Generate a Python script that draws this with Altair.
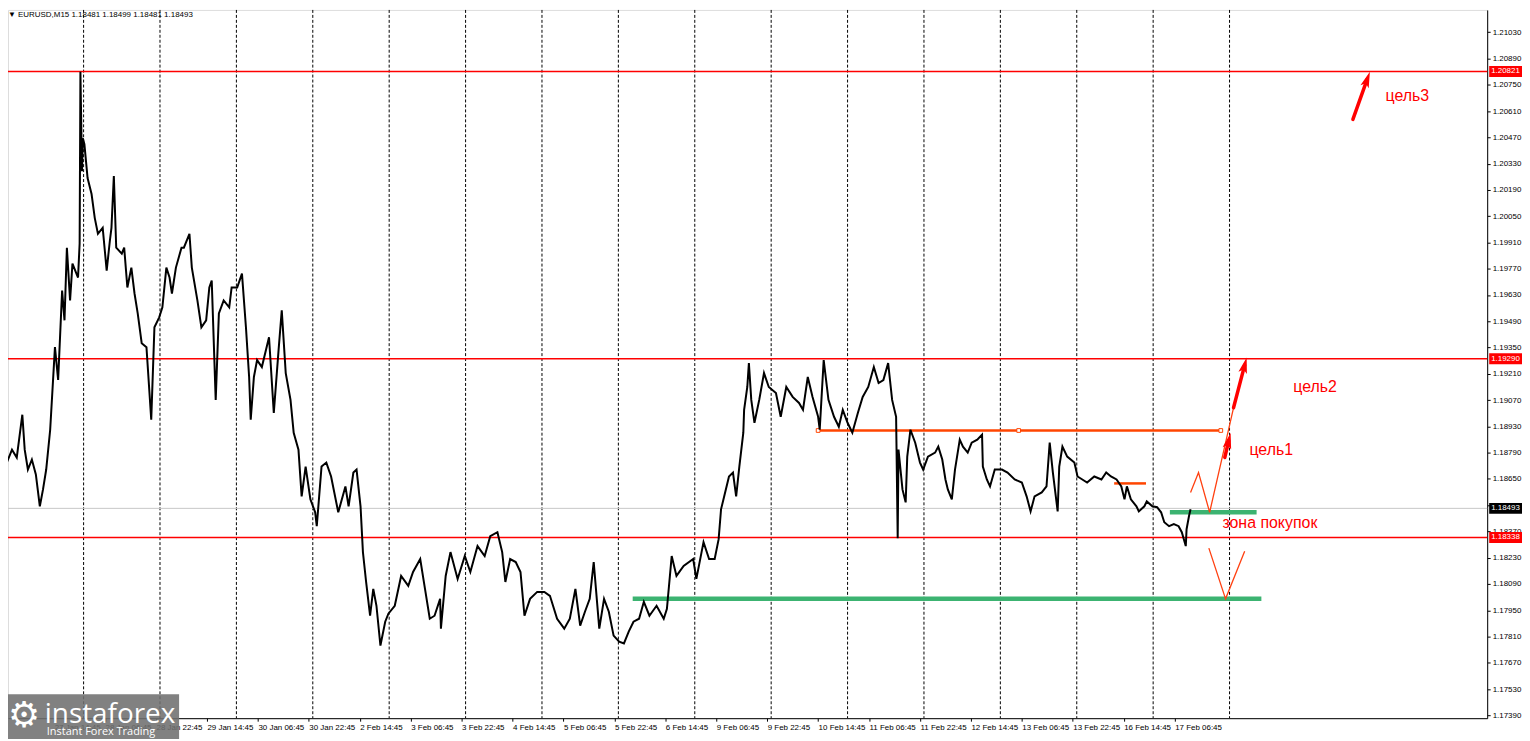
import altair as alt
import pandas as pd

# ---------------- data ----------------
# 15-minute bar index counted from Mon 26 Jan 00:00 (weekends skipped), and price
bars = [
    91, 96, 102, 108, 115, 118, 122, 127, 132, 137, 141, 145, 150, 156, 160, 165, 168, 171, 175, 178,
    185, 187, 188, 190, 191, 193, 197, 202, 206, 210, 216, 221, 225, 227, 230, 233, 240, 243, 247, 252,
    256, 260, 265, 271, 277, 281, 287, 291, 296, 300, 303, 308, 315, 318, 325, 328, 335, 340, 346, 350,
    353, 358, 362, 368, 375, 378, 385, 391, 396, 400, 402, 406, 410,
    416, 425, 431, 437, 441, 446, 452, 456, 462, 466, 471, 477, 483, 485, 491, 497, 503, 512, 521, 525,
    531, 535, 540, 543, 547, 552, 556, 560, 565, 571, 575, 583, 591, 600, 606, 615, 621, 627, 633, 640,
    641, 647, 653, 662, 671, 678, 687, 696, 703, 712, 718, 722, 728, 735, 741, 746, 753, 762, 771, 778,
    787, 796, 803, 810, 816, 822, 828, 833, 840, 846, 852, 858, 865, 871,
    877, 883, 890, 896, 903, 912, 921, 925, 931, 937, 946, 958, 962, 971, 978, 985, 990, 993, 997, 1003,
    1008, 1012, 1016, 1021, 1022, 1026, 1028, 1031, 1035, 1041, 1047, 1053, 1062, 1068, 1075, 1083, 1091,
    1096, 1102, 1108, 1115, 1117, 1122, 1128, 1135, 1141, 1146, 1152, 1158, 1165, 1171, 1178, 1185, 1191,
    1197, 1203, 1208, 1213, 1215, 1216, 1221, 1225,
    1227, 1231, 1237, 1243, 1247, 1253, 1262, 1266, 1271, 1275, 1278, 1283, 1287, 1293, 1297, 1303, 1308,
    1315, 1321, 1322, 1327, 1331, 1337, 1346, 1353, 1362, 1371, 1377, 1382, 1387, 1396, 1402, 1406, 1410,
    1416, 1418, 1422, 1428, 1437, 1441, 1447, 1453, 1462, 1471, 1477, 1483, 1490, 1496, 1500, 1503, 1508,
    1515, 1518, 1525, 1528, 1535, 1541, 1546, 1550, 1556, 1562, 1568, 1572, 1577, 1578, 1581, 1583,
]
prices = [
    1.18833, 1.18742, 1.18806, 1.18764, 1.18992, 1.18806, 1.18700, 1.18753, 1.18674, 1.18504, 1.18594, 1.18700,
    1.18912, 1.19352, 1.19177, 1.19654, 1.19495, 1.19882, 1.19601, 1.19797,
    1.19723, 1.19903, 1.20820, 1.20290, 1.20465, 1.20433, 1.20253, 1.20168, 1.20041, 1.19956, 1.19988, 1.19760,
    1.19919, 1.19988, 1.20264, 1.19882, 1.19850, 1.19882, 1.19670, 1.19776,
    1.19638, 1.19532, 1.19373, 1.19352, 1.18965, 1.19458, 1.19511, 1.19564, 1.19776, 1.19723, 1.19638, 1.19776,
    1.19882, 1.19882, 1.19956, 1.19776, 1.19601, 1.19458, 1.19495, 1.19670,
    1.19707, 1.19071, 1.19532, 1.19601, 1.19564, 1.19670, 1.19670, 1.19744, 1.19458, 1.19193, 1.18965, 1.19193,
    1.19283,
    1.19246, 1.19405, 1.19002, 1.19336, 1.19548, 1.19214, 1.19071, 1.18896, 1.18806, 1.18557, 1.18716, 1.18541,
    1.18472, 1.18398, 1.18716, 1.18737, 1.18663, 1.18472, 1.18610, 1.18504,
    1.18684, 1.18700, 1.18504, 1.18260, 1.18101, 1.17921, 1.18064, 1.17974, 1.17762, 1.17889, 1.17932, 1.17974,
    1.18133, 1.18080, 1.18154, 1.18223, 1.18064, 1.17905, 1.17921, 1.18011,
    1.17852, 1.18133, 1.18260, 1.18117, 1.18239, 1.18154, 1.18292, 1.18239, 1.18345, 1.18366, 1.18260, 1.18101,
    1.18223, 1.18207, 1.18154, 1.17921, 1.18011, 1.18048, 1.18048, 1.18027,
    1.17905, 1.17852, 1.17905, 1.18064, 1.17868, 1.17942, 1.18011, 1.18207, 1.17852, 1.18011, 1.17942, 1.17815,
    1.17783, 1.17773,
    1.17836, 1.17889, 1.17905, 1.17995, 1.17921, 1.17974, 1.17905, 1.17958, 1.18239, 1.18133, 1.18186, 1.18223,
    1.18117, 1.18313, 1.18223, 1.18223, 1.18329, 1.18488, 1.18557, 1.18663,
    1.18684, 1.18557, 1.18716, 1.18896, 1.19018, 1.19140, 1.19267, 1.19071, 1.18949, 1.19071, 1.19214, 1.19140,
    1.19108, 1.18981, 1.19140, 1.19087, 1.19055,
    1.19018, 1.19193, 1.19087, 1.18981, 1.18912, 1.19283, 1.19071, 1.18981, 1.18928, 1.19018, 1.18949, 1.18896,
    1.19002, 1.19087, 1.19140, 1.19246, 1.19161,
    1.19177, 1.19267, 1.19071, 1.18981, 1.18334, 1.18806, 1.18594, 1.18525,
    1.18769, 1.18912, 1.18843, 1.18737, 1.18700, 1.18769, 1.18790, 1.18822, 1.18753, 1.18647, 1.18594, 1.18541,
    1.18700, 1.18859, 1.18822, 1.18790, 1.18843,
    1.18859, 1.18886, 1.18716, 1.18647, 1.18610, 1.18700, 1.18700, 1.18684, 1.18647, 1.18631, 1.18557, 1.18477,
    1.18557, 1.18578, 1.18610, 1.18843, 1.18684,
    1.18477, 1.18716, 1.18822, 1.18769, 1.18737, 1.18663, 1.18647, 1.18631, 1.18663, 1.18647, 1.18684, 1.18663,
    1.18647, 1.18610, 1.18541, 1.18610, 1.18541,
    1.18504, 1.18477, 1.18504, 1.18530, 1.18504, 1.18499, 1.18472, 1.18419, 1.18398, 1.18409, 1.18398, 1.18366,
    1.18292, 1.18382, 1.18451, 1.18488,
]

# time axis: labels every 64 bars (16 hours), day separators at midnight
label_bars = [91, 155, 219, 283, 347, 411, 475, 539, 603, 667, 731, 795, 859, 923, 987, 1051,
              1115, 1179, 1243, 1307, 1371, 1435, 1499, 1563]
label_texts = ["26 Jan 22:45", "27 Jan 14:45", "28 Jan 06:45", "28 Jan 22:45", "29 Jan 14:45",
               "30 Jan 06:45", "30 Jan 22:45", "2 Feb 14:45", "3 Feb 06:45", "3 Feb 22:45",
               "4 Feb 14:45", "5 Feb 06:45", "5 Feb 22:45", "6 Feb 14:45", "9 Feb 06:45",
               "9 Feb 22:45", "10 Feb 14:45", "11 Feb 06:45", "11 Feb 22:45", "12 Feb 14:45",
               "13 Feb 06:45", "13 Feb 22:45", "16 Feb 14:45", "17 Feb 06:45"]
day_bars = [192, 288, 384, 480, 576, 672, 768, 864, 960, 1056, 1152, 1248, 1344, 1440, 1536, 1632]
price_ticks = [1.17390, 1.17530, 1.17670, 1.17810, 1.17950, 1.18090, 1.18230, 1.18370, 1.18510,
               1.18650, 1.18790, 1.18930, 1.19070, 1.19210, 1.19350, 1.19490, 1.19630, 1.19770,
               1.19910, 1.20050, 1.20190, 1.20330, 1.20470, 1.20610, 1.20750, 1.20890, 1.21030, 1.21170]

# levels
red_levels = [1.20821, 1.19290, 1.18338]
bid_level = 1.18493
tag_prices = [1.20821, 1.19290, 1.18338, 1.18493]
tag_texts = ["1.20821", "1.19290", "1.18338", "1.18493"]
tag_colors = ["#ff0000", "#ff0000", "#ff0000", "#000000"]

orange_b1 = [1115, 1487]
orange_b2 = [1621, 1527]
orange_p = [1.18908, 1.18626]
orange_handles = [1115, 1367, 1621]
green_b1 = [882, 1557]
green_b2 = [1672, 1666]
green_p = [1.18011, 1.18472]

zig_up_bars = [1583, 1593, 1607, 1637]
zig_up_prices = [1.18578, 1.18684, 1.18472, 1.19029]
zig_dn_bars = [1606, 1627, 1651]
zig_dn_prices = [1.18281, 1.18011, 1.18265]

arrow_b1 = [1637, 1626, 1787]
arrow_p1 = [1.19029, 1.18764, 1.20566]
arrow_b2 = [1651, 1631, 1805]
arrow_p2 = [1.19256, 1.18854, 1.20780]
arrow_angle = [14.6, 13.5, 19.5]

note_texts = ["цель3", "цель2", "цель1", "зона покупок"]
note_bars = [1828, 1712, 1657, 1623]
note_prices = [1.20688, 1.19140, 1.18806, 1.18414]

header = "▼ EURUSD,M15  1.18481 1.18499 1.18481 1.18493"

# ---------------- chart ----------------
W, H = 1487, 712
FONT = "Liberation Sans"
xs = alt.Scale(domain=[97, 1955.75], nice=False, zero=False)
ys = alt.Scale(domain=[1.17375, 1.21149], nice=False, zero=False)

label_expr = "[" + ",".join("'%s'" % t for t in label_texts) + "][round((datum.value-91)/64)]"

x_axis = alt.Axis(values=label_bars, labelExpr=label_expr, title=None, grid=False,
                  labelAlign="left", labelBaseline="top", labelPadding=2, tickSize=3,
                  labelFontSize=8, labelFont=FONT, labelColor="#000", tickColor="#000",
                  domainColor="#000", labelOverlap=False, labelFlush=False)
y_axis = alt.Axis(values=price_ticks, format=".5f", orient="right", title=None, grid=False,
                  labelPadding=2, tickSize=3, labelFontSize=8, labelFont=FONT, labelColor="#000",
                  tickColor="#000", domainColor="#000", labelOverlap=False, labelFlush=False)


def X(f):
    return alt.X(f, scale=xs, axis=x_axis)


def Y(f):
    return alt.Y(f, scale=ys, axis=y_axis)


price_df = pd.DataFrame({"bar": bars, "price": prices})

seps = alt.Chart(pd.DataFrame({"bar": day_bars})).mark_rule(
    color="#000", strokeWidth=1, strokeDash=[3, 2]).encode(x=X("bar:Q"))

price_line = alt.Chart(price_df).mark_line(color="#000", strokeWidth=2.0, clip=True).encode(
    x=X("bar:Q"), y=Y("price:Q"), order="bar:Q")

red_lines = alt.Chart(pd.DataFrame({"price": red_levels})).mark_rule(
    color="#ff0000", strokeWidth=1.5).encode(y=Y("price:Q"))
bid_line = alt.Chart(pd.DataFrame({"price": [bid_level]})).mark_rule(
    color="#c8c8c8", strokeWidth=1).encode(y=Y("price:Q"))

orange_lines = alt.Chart(pd.DataFrame({"b1": orange_b1, "b2": orange_b2, "p": orange_p})).mark_rule(
    color="#ff4500", strokeWidth=2.5).encode(x=X("b1:Q"), x2="b2:Q", y=Y("p:Q"))
handles = alt.Chart(pd.DataFrame({"bar": orange_handles, "p": [orange_p[0]] * 3})).mark_point(
    shape="square", size=14, filled=True, fill="#ffffff", stroke="#ff4500", strokeWidth=1, opacity=1).encode(
    x=X("bar:Q"), y=Y("p:Q"))

green_lines = alt.Chart(pd.DataFrame({"b1": green_b1, "b2": green_b2, "p": green_p})).mark_rule(
    color="#3cb371", strokeWidth=4.5).encode(x=X("b1:Q"), x2="b2:Q", y=Y("p:Q"))

zig_up = alt.Chart(pd.DataFrame({"bar": zig_up_bars, "p": zig_up_prices, "o": range(4)})).mark_line(
    color="#ff4010", strokeWidth=1.3).encode(x=X("bar:Q"), y=Y("p:Q"), order="o:Q")
zig_dn = alt.Chart(pd.DataFrame({"bar": zig_dn_bars, "p": zig_dn_prices, "o": range(3)})).mark_line(
    color="#ff4010", strokeWidth=1.3).encode(x=X("bar:Q"), y=Y("p:Q"), order="o:Q")

arrow_df = pd.DataFrame({"b1": arrow_b1, "p1": arrow_p1, "b2": arrow_b2, "p2": arrow_p2, "ang": arrow_angle})
arrow_shafts = alt.Chart(arrow_df).mark_rule(color="#ff0000", strokeWidth=3.5, strokeCap="round").encode(
    x=X("b1:Q"), x2="b2:Q", y=Y("p1:Q"), y2="p2:Q")
arrow_heads = alt.Chart(arrow_df).mark_point(
    shape="M0,-1 L0.55,1 L0,0.55 L-0.55,1 Z", size=256, filled=True, color="#ff0000", opacity=1).encode(
    x=X("b2:Q"), y=Y("p2:Q"), angle=alt.Angle("ang:Q", scale=None))

notes = alt.Chart(pd.DataFrame({"t": note_texts, "bar": note_bars, "p": note_prices})).mark_text(
    align="left", baseline="middle", fontSize=16, font=FONT, color="#ff0000").encode(
    x=X("bar:Q"), y=Y("p:Q"), text="t:N")

tag_df = pd.DataFrame({"p": tag_prices, "t": tag_texts, "c": tag_colors})
tags = alt.Chart(tag_df).transform_calculate(
    top="datum.p + 0.00029", bot="datum.p - 0.00029").mark_rect().encode(
    x=alt.value(W + 2), x2=alt.value(W + 35),
    y=Y("top:Q"), y2="bot:Q",
    color=alt.Color("c:N", scale=None))
tag_text = alt.Chart(tag_df).mark_text(
    align="left", baseline="middle", fontSize=8, font=FONT, color="#ffffff").encode(
    x=alt.value(W + 4), y=Y("p:Q"), text="t:N")

header_txt = alt.Chart(pd.DataFrame({"t": [header]})).mark_text(
    align="left", baseline="top", fontSize=8, font=FONT, color="#000").encode(
    x=alt.value(0), y=alt.value(1), text="t:N")

logo_box = alt.Chart(pd.DataFrame({"k": [0]})).mark_rect(color="#6f6f6f", opacity=0.88).encode(
    x=alt.value(0), x2=alt.value(172), y=alt.value(688), y2=alt.value(733))
logo_gear = alt.Chart(pd.DataFrame({"t": ["⚙"]})).mark_text(
    align="left", baseline="middle", fontSize=36, font="DejaVu Sans", color="#ffffff").encode(
    x=alt.value(0), y=alt.value(710), text="t:N")
logo_name = alt.Chart(pd.DataFrame({"t": ["instaforex"]})).mark_text(
    align="left", baseline="alphabetic", fontSize=28, font="Open Sans", color="#ffffff").encode(
    x=alt.value(37), y=alt.value(717), text="t:N")
logo_sub = alt.Chart(pd.DataFrame({"t": ["Instant Forex Trading"]})).mark_text(
    align="left", baseline="alphabetic", fontSize=11, font="Open Sans", color="#ffffff").encode(
    x=alt.value(39), y=alt.value(729), text="t:N")

chart = alt.layer(
    seps, bid_line, red_lines, green_lines, orange_lines, handles, price_line,
    zig_up, zig_dn, arrow_shafts, arrow_heads, notes, tags, tag_text, header_txt,
    logo_box, logo_gear, logo_name, logo_sub,
).properties(
    width=W, height=H,
    padding={"left": 0, "top": 0, "right": 35, "bottom": 21},
    autosize=alt.AutoSizeParams(type="none"),
).configure_view(stroke=None).configure(background="#ffffff")

chart.save("out.html", embed_options={"renderer": "svg", "actions": False})
